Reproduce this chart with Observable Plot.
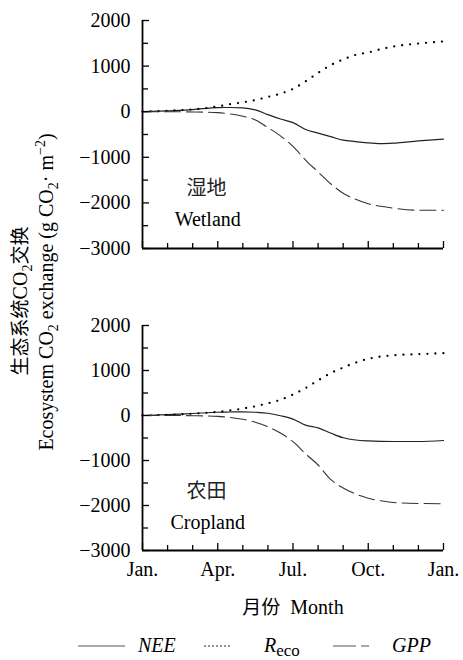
<!DOCTYPE html>
<html>
<head>
<meta charset="utf-8">
<script src="https://cdn.jsdelivr.net/npm/d3@7"></script>
<script src="https://cdn.jsdelivr.net/npm/@observablehq/plot@0.6"></script>
<style>
  html, body { margin: 0; padding: 0; background: #fff; }
  #wrap { position: relative; width: 463px; height: 660px; overflow: hidden;
          font-family: "Liberation Serif", "Noto Sans CJK SC", serif; color: #000; }
  .abs { position: absolute; }
  .ylab { position: absolute; white-space: nowrap; font-size: 20px; line-height: 1;
          transform: translate(-50%, -50%) rotate(-90deg); }
  sub, sup { font-size: 0.7em; line-height: 0; }
</style>
</head>
<body>
<div id="wrap"></div>
<script>
// ---- data ----
const months = [0, 1, 2, 3, 3.5, 4, 4.5, 5, 5.5, 6, 6.5, 7, 7.5, 8, 8.5, 9, 9.5, 10, 11, 12];

const wetlandNEE  = [0, 20, 45, 90, 92, 85, 40, -65, -160, -240, -390, -470, -545, -625, -655, -685, -700, -690, -640, -600];
const wetlandReco = [0, 20, 50, 115, 165, 205, 255, 325, 395, 500, 665, 850, 1020, 1145, 1245, 1300, 1370, 1428, 1495, 1540];
const wetlandGPP  = [0, 0, -5, -20, -50, -100, -180, -350, -530, -760, -1060, -1320, -1580, -1790, -1920, -2020, -2075, -2115, -2160, -2160];

const croplandNEE  = [0, 20, 45, 72, 78, 82, 72, 50, -5, -80, -215, -275, -390, -495, -545, -565, -575, -578, -578, -555];
const croplandReco = [0, 15, 40, 80, 112, 155, 205, 270, 350, 465, 610, 780, 940, 1065, 1175, 1260, 1310, 1338, 1363, 1385];
const croplandGPP  = [0, 0, -5, -20, -45, -85, -150, -250, -390, -580, -850, -1100, -1420, -1610, -1745, -1840, -1895, -1935, -1955, -1960];

const yMajorTicks = [-3000, -2000, -1000, 0, 1000, 2000];
const yMinorTicks = [-2500, -1500, -500, 500, 1500];
const xMajorTicks = [0, 3, 6, 9, 12];
const xMinorTicks = [1, 2, 4, 5, 7, 8, 10, 11];
const xTickLabels = ["Jan.", "Apr.", "Jul.", "Oct.", "Jan."];
const seriesNames = ["NEE", "Reco", "GPP"];

const panelNames = [["湿地", "Wetland"], ["农田", "Cropland"]];
// ---------------------------------------

const FONT = '"Liberation Serif", "Noto Sans CJK SC", serif';
const styles = {
  NEE:  {stroke: "#222", strokeWidth: 1.2},
  Reco: {stroke: "#000", strokeWidth: 2.3, strokeDasharray: "0,8", strokeLinecap: "round"},
  GPP:  {stroke: "#333", strokeWidth: 1.1, strokeDasharray: "16,6"}
};
const fmt = d => d < 0 ? "\u2212" + Math.abs(d) : String(d);

function panel(nee, reco, gpp, names, showX, height, marginBottom) {
  const series = {NEE: nee, Reco: reco, GPP: gpp};
  const lines = seriesNames.map(s =>
    Plot.line(months.map((m, i) => ({m, v: series[s][i]})),
      {x: "m", y: "v", curve: "monotone-x", ...styles[s]}));
  return Plot.plot({
    width: 463, height,
    marginLeft: 142, marginRight: 20, marginTop: 20, marginBottom,
    x: {domain: [0, 12]},
    y: {domain: [-3000, 2000]},
    style: {fontFamily: FONT, fontSize: "20px", color: "#000", background: "transparent", overflow: "visible"},
    marks: [
      ...lines,
      Plot.axisY(yMajorTicks, {tickSize: -7, tickFormat: () => "", label: null, strokeWidth: 1.3}),
      Plot.axisY(yMinorTicks, {tickSize: -6, tickFormat: () => "", label: null, strokeWidth: 1.3}),
      Plot.axisY(yMajorTicks, {tickSize: 0, tickPadding: 12, tickFormat: fmt, label: null, fontSize: 20, fontFamily: FONT}),
      Plot.axisX(xMajorTicks, {tickSize: -7, tickFormat: () => "", label: null, strokeWidth: 1.3}),
      Plot.axisX(xMinorTicks, {tickSize: -5, tickFormat: () => "", label: null, strokeWidth: 1.3}),
      ...(showX ? [Plot.axisX(xMajorTicks, {tickSize: 0, tickPadding: 11, tickFormat: d => xTickLabels[xMajorTicks.indexOf(d)], label: null, fontSize: 20, fontFamily: FONT})] : []),
      Plot.ruleX([0], {strokeWidth: 1.8}),
      Plot.ruleY([-3000], {strokeWidth: 1.8}),
      Plot.text([names[0]], {x: 2.55, y: -1690, text: d => d, fontSize: 20, fontFamily: '"Noto Sans CJK SC", sans-serif', fill: "#222"}),
      Plot.text([names[1]], {x: 2.6, y: -2370, text: d => d, fontSize: 20, fontFamily: FONT})
    ]
  });
}

const wrap = document.getElementById("wrap");

const p1 = panel(wetlandNEE, wetlandReco, wetlandGPP, panelNames[0], false, 260, 12);
p1.style.position = "absolute"; p1.style.left = "0px"; p1.style.top = "0px";
wrap.appendChild(p1);

const p2 = panel(croplandNEE, croplandReco, croplandGPP, panelNames[1], true, 290, 45);
p2.style.position = "absolute"; p2.style.left = "0px"; p2.style.top = "305px";
wrap.appendChild(p2);

// y-axis title (two lines)
const yl1 = document.createElement("div");
yl1.className = "ylab";
yl1.style.left = "19px"; yl1.style.top = "301px";
yl1.innerHTML = '<span style="font-family:\'Noto Sans CJK SC\',sans-serif;font-size:19px">生态系统</span>CO<sub>2</sub><span style="font-family:\'Noto Sans CJK SC\',sans-serif;font-size:19px">交换</span>';
wrap.appendChild(yl1);

const yl2 = document.createElement("div");
yl2.className = "ylab";
yl2.style.left = "46px"; yl2.style.top = "292px";
yl2.innerHTML = 'Ecosystem CO<sub>2</sub> exchange (g CO<sub>2</sub>· m<sup>\u22122</sup>)';
wrap.appendChild(yl2);

// x-axis title
const xl = document.createElement("div");
xl.className = "abs";
xl.style.left = "293px"; xl.style.top = "605px";
xl.style.transform = "translate(-50%, -50%)";
xl.style.whiteSpace = "nowrap"; xl.style.fontSize = "20px";
xl.innerHTML = '<span style="font-family:\'Noto Sans CJK SC\',sans-serif;font-size:19px">月份</span>&nbsp;&nbsp;Month';
wrap.appendChild(xl);

// legend
const leg = d3.select(wrap).append("svg")
  .attr("width", 463).attr("height", 28)
  .style("position", "absolute").style("left", "0px").style("top", "632px")
  .style("overflow", "visible")
  .style("font-family", FONT).style("font-size", "20px");
const legItems = [
  {name: "NEE",  x1: 78,  x2: 125, tx: 138, dash: null},
  {name: "Reco", x1: 205, x2: 233, tx: 264, dash: "0,4"},
  {name: "GPP",  x1: 333, x2: 374, tx: 392, dash: "23,5,8"}
];
legItems.forEach(it => {
  leg.append("line").attr("x1", it.x1).attr("x2", it.x2).attr("y1", 14).attr("y2", 14)
    .attr("stroke", it.name === "Reco" ? "#000" : "#555")
    .attr("stroke-width", it.name === "Reco" ? 1.6 : 1.1)
    .attr("stroke-linecap", it.name === "Reco" ? "round" : "butt")
    .attr("stroke-dasharray", it.dash);
  const t = leg.append("text").attr("x", it.tx).attr("y", 20);
  if (it.name === "Reco") {
    t.append("tspan").attr("font-style", "italic").text("R");
    t.append("tspan").attr("dy", 4).attr("font-size", 17).text("eco");
  } else {
    t.attr("font-style", "italic").text(it.name);
  }
});
</script>
</body>
</html>
